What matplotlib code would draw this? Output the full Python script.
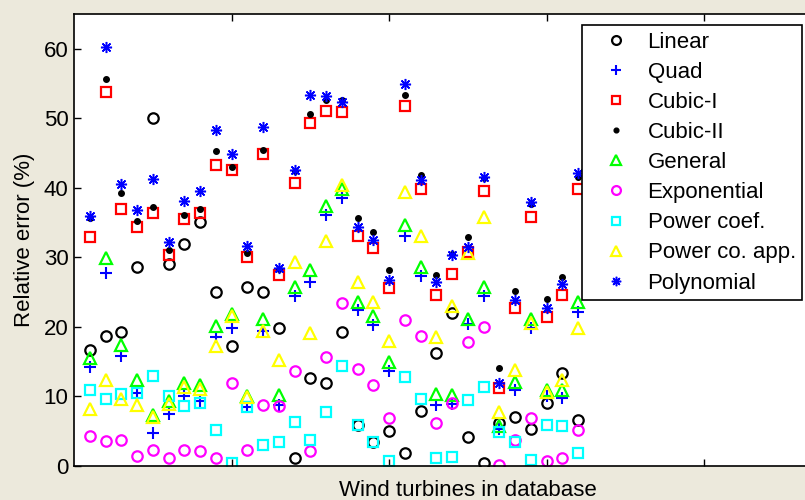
import numpy as np
import matplotlib
matplotlib.use('Agg')
import matplotlib.pyplot as plt

plt.rcParams['font.family'] = ['Liberation Sans', 'DejaVu Sans']

turbinas = np.arange(1, 33)

linear = [16.7, 18.7, 19.3, 28.6, 50.1, 29.0, 31.9, 35.1, 25.0, 17.3, 25.8, 25.0, 19.9, 1.2, 12.7, 12.0,
          19.3, 5.9, 3.5, 5.0, 1.8, 7.9, 16.3, 22.0, 4.1, 0.4, 6.2, 7.0, 5.3, 9.0, 13.4, 6.6]
quad = [14.2, 27.8, 15.8, 10.5, 4.8, 7.5, 10.1, 9.4, 18.5, 19.9, 8.5, 19.4, 8.8, 24.4, 26.4, 36.1,
        38.5, 22.5, 20.3, 13.7, 33.1, 27.3, 8.8, 8.9, 20.4, 24.4, 5.3, 11.0, 19.8, 10.0, 9.8, 22.2]
cubic_1 = [33.0, 53.8, 36.9, 34.4, 36.4, 30.4, 35.5, 36.4, 43.3, 42.6, 30.0, 44.9, 27.5, 40.7, 49.3, 51.0,
           50.9, 33.1, 31.3, 25.6, 51.8, 39.8, 24.6, 27.6, 30.8, 39.6, 11.2, 22.7, 35.8, 21.4, 24.6, 39.9]
cubic_2 = [35.6, 55.6, 39.3, 35.2, 37.2, 31.0, 36.1, 37.0, 45.3, 43.0, 30.7, 45.5, 28.3, 42.4, 50.6, 52.7,
           52.6, 35.6, 33.7, 28.2, 53.4, 41.8, 27.4, 30.5, 32.9, 41.4, 14.1, 25.2, 37.7, 24.0, 27.2, 41.6]
general = [15.6, 29.9, 17.4, 12.4, 7.3, 9.3, 11.9, 11.7, 20.2, 21.8, 10.1, 21.2, 10.2, 25.8, 28.2, 37.4,
           39.8, 23.6, 21.6, 14.9, 34.7, 28.6, 10.3, 10.2, 21.2, 25.7, 5.7, 12.1, 21.2, 10.9, 11.0, 23.6]
exponencial = [4.3, 3.6, 3.8, 1.4, 2.3, 1.2, 2.3, 2.2, 1.2, 11.9, 2.3, 8.8, 8.6, 13.7, 2.1, 15.7,
               23.5, 13.9, 11.6, 6.9, 21.0, 18.7, 6.2, 9.1, 17.9, 20.0, 0.2, 3.8, 6.9, 0.7, 1.1, 5.2]
power_coef = [11.0, 9.7, 10.3, 10.5, 13.0, 10.0, 8.7, 9.1, 5.2, 0.5, 8.5, 3.0, 3.4, 6.3, 3.7, 7.7,
              14.4, 5.9, 3.5, 0.7, 12.8, 9.7, 1.1, 1.3, 9.5, 11.4, 4.9, 3.4, 0.8, 5.9, 5.8, 1.9]
power_app = [8.2, 12.4, 9.7, 8.8, 7.0, 8.9, 11.3, 11.1, 17.3, 21.6, 9.9, 19.4, 15.2, 29.4, 19.1, 32.4,
             40.4, 26.5, 23.6, 18.0, 39.4, 33.1, 18.6, 23.0, 30.7, 35.8, 7.7, 13.8, 20.6, 10.6, 12.4, 19.8]
polinomial = [35.9, 60.2, 40.5, 36.8, 41.3, 32.2, 38.1, 39.6, 48.3, 44.8, 31.7, 48.7, 28.5, 42.6, 53.4, 53.2,
              52.4, 34.4, 32.5, 26.8, 55.0, 41.2, 26.5, 30.4, 31.5, 41.6, 12.0, 23.9, 37.9, 22.7, 26.2, 42.2]

# nome, dados, marcador, cor, tamanho, espessura
series = [
    ('Linear', linear, 'o', '#000000', 7.5, 1.6),
    ('Quad', quad, '+', '#0000ff', 8, 1.5),
    ('Cubic-I', cubic_1, 's', '#ff0000', 7.5, 1.6),
    ('Cubic-II', cubic_2, '.', '#000000', 8, 1.0),
    ('General', general, '^', '#00ff00', 8.5, 1.6),
    ('Exponential', exponencial, 'o', '#ff00ff', 7.5, 1.6),
    ('Power coef.', power_coef, 's', '#00ffff', 7.5, 1.6),
    ('Power co. app.', power_app, '^', '#ffff00', 8.5, 1.6),
    ('Polynomial', polinomial, (8, 2, 0), '#0000ff', 8, 1.1),
]

fig = plt.figure(figsize=(8.05, 5.0), dpi=100, facecolor='#ECE9DC')
ax = fig.add_axes([74 / 805, 34 / 500, 787.5 / 805, 452 / 500])
ax.set_facecolor('white')

for nome, valores, marcador, cor, tam, esp in series:
    if marcador in ('.', '+', (8, 2, 0)):
        ax.plot(turbinas, valores, linestyle='none', marker=marcador, color=cor,
                markersize=tam, markeredgewidth=esp, label=nome)
    else:
        ax.plot(turbinas, valores, linestyle='none', marker=marcador, markerfacecolor='none',
                markeredgecolor=cor, markersize=tam, markeredgewidth=esp, label=nome)

ax.set_xlim(0, 50)
ax.set_ylim(0, 65)
ax.set_xticks([10, 20, 30, 40])
ax.set_xticklabels([])
ax.set_yticks(np.arange(0, 61, 10))
ax.tick_params(direction='in', length=5, width=1, top=True, right=True, labelsize=16, pad=4)
for sp in ax.spines.values():
    sp.set_linewidth(1.2)

ax.set_xlabel('Wind turbines in database', fontsize=16, labelpad=6)
ax.set_ylabel('Relative error (%)', fontsize=16, labelpad=6)

leg = ax.legend(loc='upper left', bbox_to_anchor=(582 / 805, 1 - 25 / 500), bbox_transform=fig.transFigure,
                fontsize=16, frameon=True, fancybox=False, framealpha=1, edgecolor='k',
                borderaxespad=0, handlelength=2.5, handletextpad=0.15, labelspacing=0.41, borderpad=0.3,
                markerscale=0.85)
leg.get_frame().set_linewidth(1.2)

plt.savefig('out.png', dpi=100, facecolor=fig.get_facecolor())
